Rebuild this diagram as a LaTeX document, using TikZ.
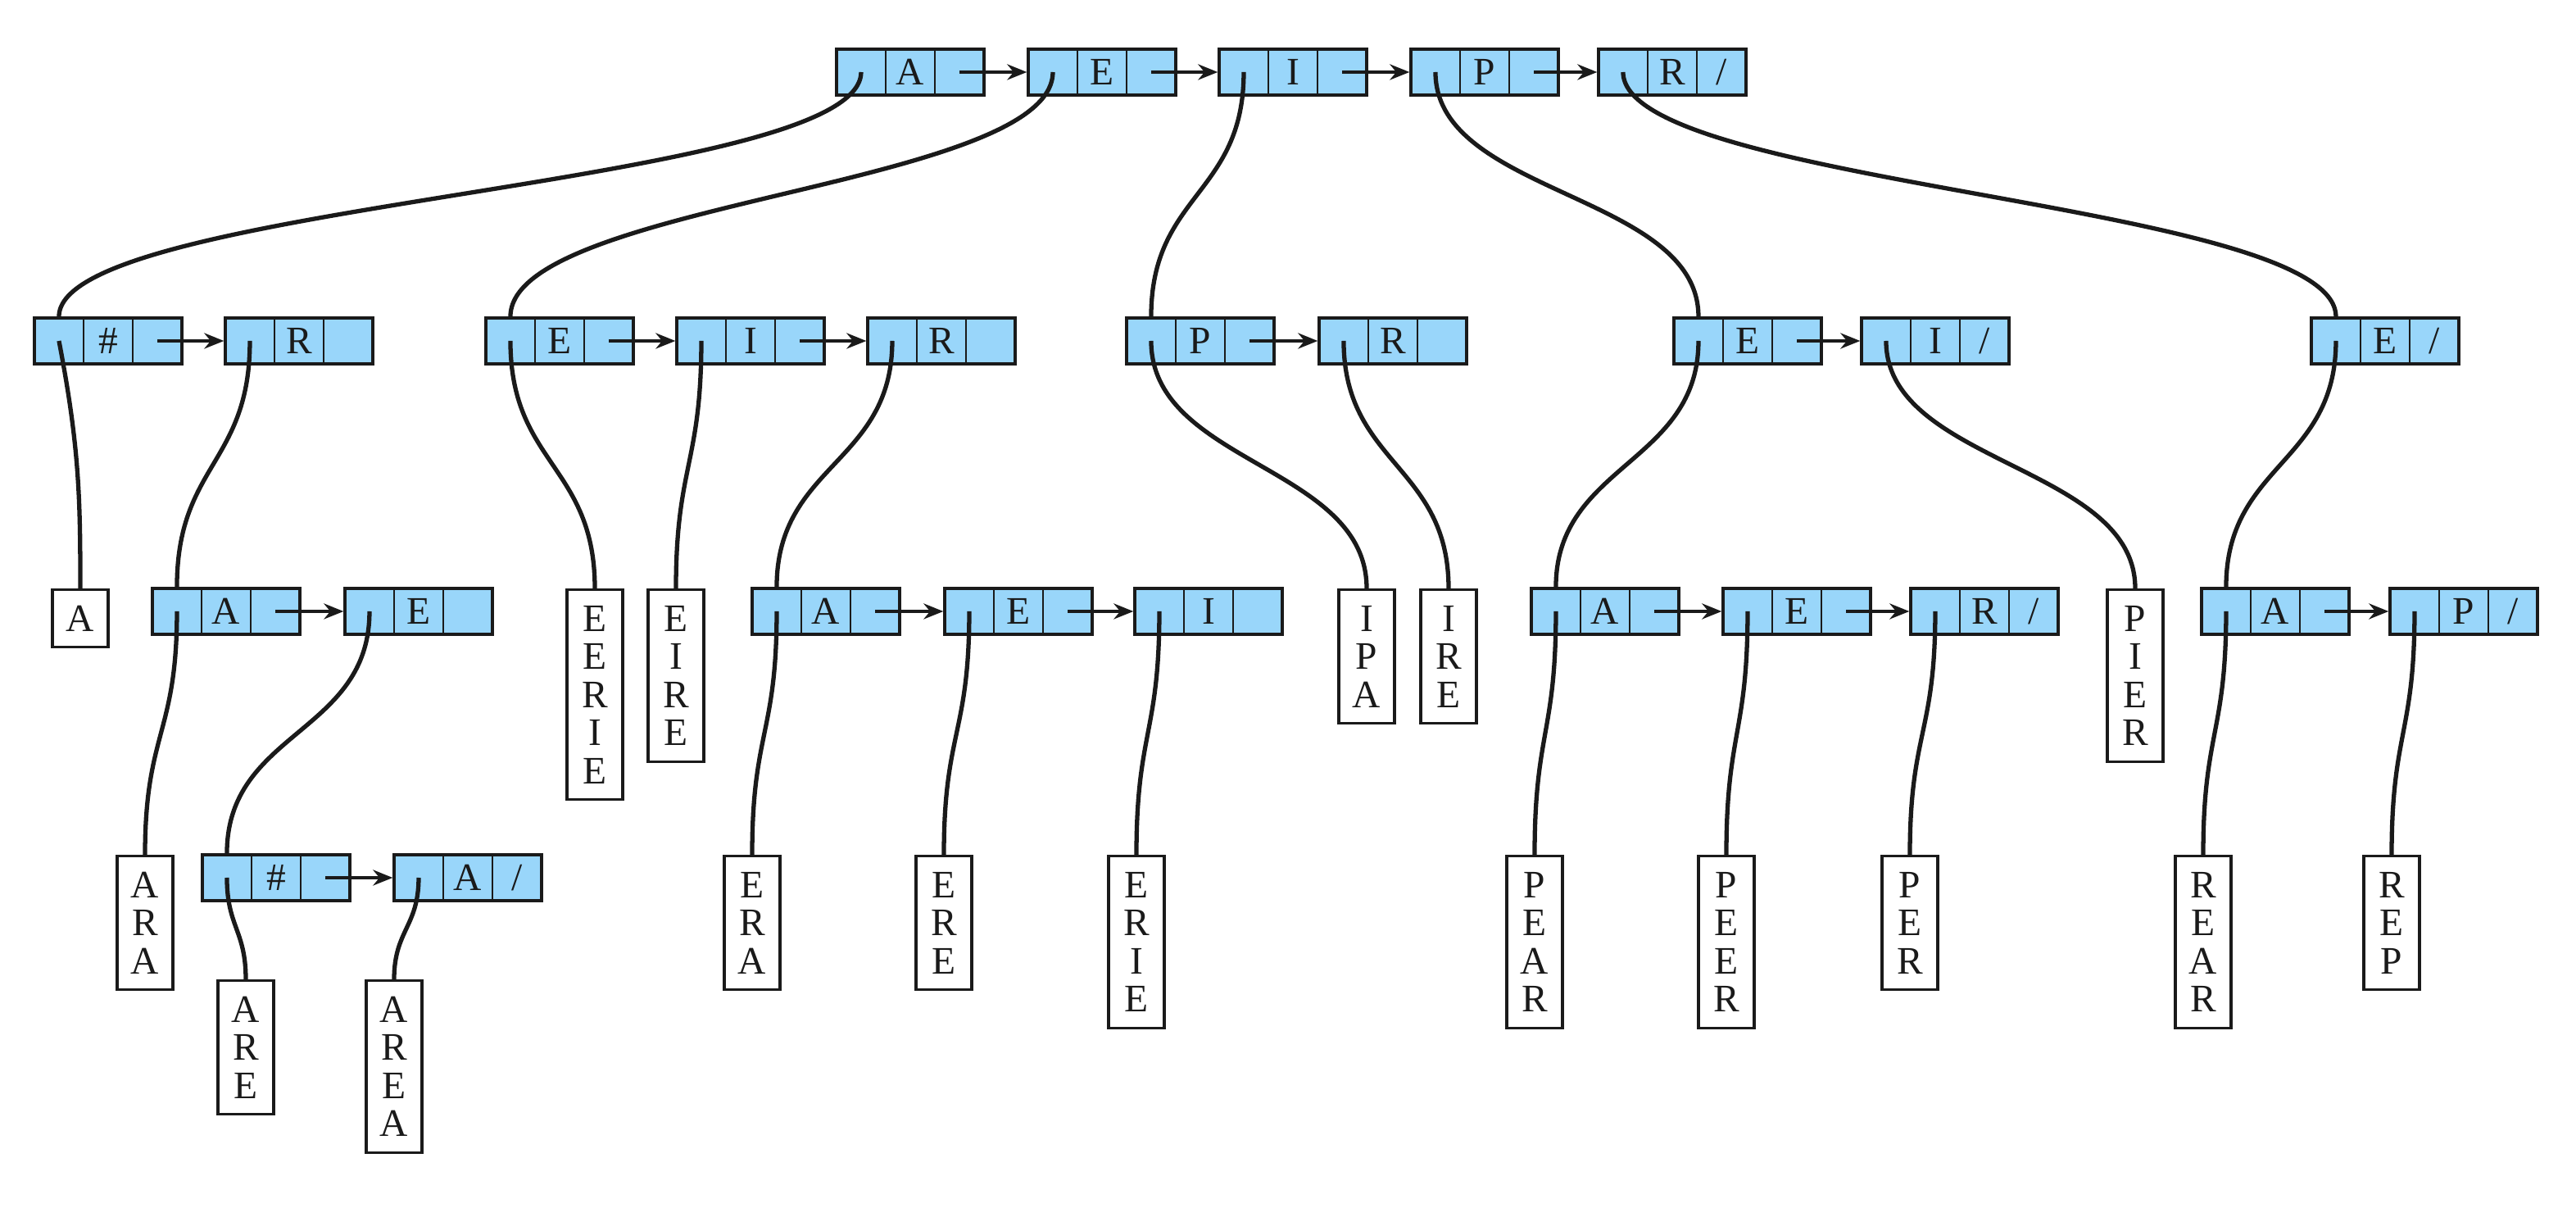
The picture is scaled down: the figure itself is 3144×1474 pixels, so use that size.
\documentclass[tikz,border=0pt]{standalone}
\usepackage{fontspec}
\setmainfont{Liberation Serif}
\usetikzlibrary{arrows.meta}
\definecolor{cellblue}{RGB}{153,214,250}
\definecolor{ink}{RGB}{26,26,26}
\newcommand{\lfont}{\fontsize{13.5}{13.2}\selectfont}
\tikzset{
  cellbox/.style={draw=ink, fill=cellblue, line width=0.9pt, minimum width=1.8cm,
    minimum height=0.56cm, inner sep=0pt, font=\lfont, text=ink,
    path picture={\draw[line width=0.6pt,ink]
      ([xshift=-0.3cm]path picture bounding box.north) -- ([xshift=-0.3cm]path picture bounding box.south)
      ([xshift=0.3cm]path picture bounding box.north) -- ([xshift=0.3cm]path picture bounding box.south);}},
  nilbox/.style={cellbox,
    path picture={\draw[line width=0.6pt,ink]
      ([xshift=-0.3cm]path picture bounding box.north) -- ([xshift=-0.3cm]path picture bounding box.south)
      ([xshift=0.3cm]path picture bounding box.north) -- ([xshift=0.3cm]path picture bounding box.south);
      \node[font=\lfont,text=ink,inner sep=0pt] at ([xshift=0.6cm]path picture bounding box.center) {/};}},
  leaf/.style={draw=ink, fill=white, line width=0.9pt, minimum width=0.68cm,
    minimum height={0.70cm+0.465cm*(#1-1)}, inner sep=0pt, align=center,
    font=\lfont, text=ink, anchor=north},
  link/.style={line width=1.5pt, draw=ink},
  nxt/.style={line width=1.2pt, draw=ink, -{Stealth[length=0.24cm,width=0.19cm]}}
}
\begin{document}
\begin{tikzpicture}[x=0.01cm,y=-0.01cm]
\useasboundingbox (0,0) rectangle (3144,1474);

% ---- top row
\node[cellbox] (t1) at (1111,88) {A};
\node[cellbox] (t2) at (1345,88) {E};
\node[cellbox] (t3) at (1578,88) {I};
\node[cellbox] (t4) at (1812,88) {P};
\node[nilbox]  (t5) at (2041,88) {R};

% ---- level 2
\node[cellbox] (a1) at (132,416) {\#};
\node[cellbox] (a2) at (365,416) {R};
\node[cellbox] (b1) at (683,416) {E};
\node[cellbox] (b2) at (916,416) {I};
\node[cellbox] (b3) at (1149,416) {R};
\node[cellbox] (c1) at (1465,416) {P};
\node[cellbox] (c2) at (1700,416) {R};
\node[cellbox] (d1) at (2133,416) {E};
\node[nilbox]  (d2) at (2362,416) {I};
\node[nilbox]  (e1) at (2911,416) {E};

% ---- level 3
\node[cellbox] (f1) at (276,746) {A};
\node[cellbox] (f2) at (511,746) {E};
\node[cellbox] (g1) at (1008,746) {A};
\node[cellbox] (g2) at (1243,746) {E};
\node[cellbox] (g3) at (1475,746) {I};
\node[cellbox] (h1) at (1959,746) {A};
\node[cellbox] (h2) at (2193,746) {E};
\node[nilbox]  (h3) at (2422,746) {R};
\node[cellbox] (k1) at (2777,746) {A};
\node[nilbox]  (k2) at (3007,746) {P};

% ---- level 4
\node[cellbox] (m1) at (337,1071) {\#};
\node[nilbox]  (m2) at (571,1071) {A};

% ---- leaves
\node[leaf=1] (lA)     at (98,718)   {A};
\node[leaf=5] (lEERIE) at (726,718)  {E\\E\\R\\I\\E};
\node[leaf=4] (lEIRE)  at (825,718)  {E\\I\\R\\E};
\node[leaf=3] (lIPA)   at (1668,718) {I\\P\\A};
\node[leaf=3] (lIRE)   at (1768,718) {I\\R\\E};
\node[leaf=4] (lPIER)  at (2606,718) {P\\I\\E\\R};
\node[leaf=3] (lARA)   at (177,1043) {A\\R\\A};
\node[leaf=3] (lERA)   at (918,1043) {E\\R\\A};
\node[leaf=3] (lERE)   at (1152,1043) {E\\R\\E};
\node[leaf=4] (lERIE)  at (1387,1043) {E\\R\\I\\E};
\node[leaf=4] (lPEAR)  at (1873,1043) {P\\E\\A\\R};
\node[leaf=4] (lPEER)  at (2107,1043) {P\\E\\E\\R};
\node[leaf=3] (lPER)   at (2331,1043) {P\\E\\R};
\node[leaf=4] (lREAR)  at (2689,1043) {R\\E\\A\\R};
\node[leaf=3] (lREP)   at (2919,1043) {R\\E\\P};
\node[leaf=3] (lARE)   at (300,1195) {A\\R\\E};
\node[leaf=4] (lAREA)  at (481,1195) {A\\R\\E\\A};

% ---- next arrows
\foreach \p/\q in {t1/t2,t2/t3,t3/t4,t4/t5,a1/a2,b1/b2,b2/b3,c1/c2,d1/d2,
                   f1/f2,g1/g2,g2/g3,h1/h2,h2/h3,k1/k2,m1/m2}
  \draw[nxt] ([xshift=0.6cm]\p.center) -- (\q.west);

% ---- child links to lists
\foreach \p/\c/\h in {t1/a1/140,t2/b1/140,t3/c1/150,t4/d1/150,t5/e1/140,
                      a2/f1/150,b3/g1/150,d1/h1/150,e1/k1/150,f2/m1/150}
  \draw[link] ([xshift=-0.6cm]\p.center) .. controls +(0,\h) and +(0,-\h) .. ([xshift=-0.6cm]\c.north);

% ---- child links to leaves
\draw[link] ([xshift=-0.6cm]a1.center) .. controls +(25,130) and +(0,-110) .. (lA.north);
\foreach \p/\c/\h in {b1/lEERIE/150,b2/lEIRE/150,c1/lIPA/150,c2/lIRE/150,d2/lPIER/150,
                      f1/lARA/150,g1/lERA/150,g2/lERE/150,g3/lERIE/150,h1/lPEAR/150,h2/lPEER/150,
                      h3/lPER/150,k1/lREAR/150,k2/lREP/150,m1/lARE/60,m2/lAREA/60}
  \draw[link] ([xshift=-0.6cm]\p.center) .. controls +(0,\h) and +(0,-\h) .. (\c.north);
\end{tikzpicture}
\end{document}
